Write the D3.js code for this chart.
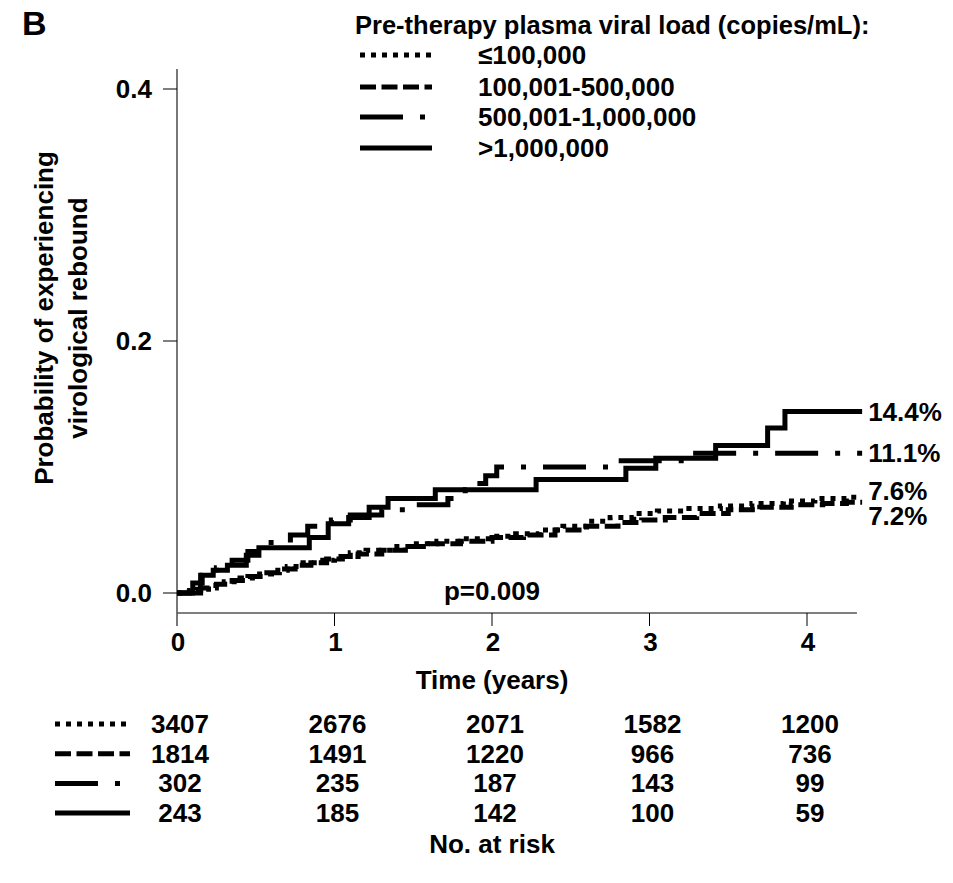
<!DOCTYPE html>
<html>
<head>
<meta charset="utf-8">
<script src="https://cdnjs.cloudflare.com/ajax/libs/d3/7.8.5/d3.min.js"></script>
<style>
  body { margin: 0; background: #fff; }
  text { font-family: "Liberation Sans", Arial, sans-serif; font-weight: bold; fill: #000; }
</style>
</head>
<body>
<div id="chart"></div>
<script>
// groups, in legend order
var groups = ["\u2264100,000", "100,001-500,000", "500,001-1,000,000", ">1,000,000"];

// cumulative probability of rebound, [years, probability] step points
var curveLow = [[0,0],[0.05,0.001],[0.12,0.003],[0.2,0.006],[0.3,0.009],[0.4,0.012],[0.5,0.015],[0.6,0.018],
  [0.7,0.021],[0.8,0.024],[0.9,0.026],[1.0,0.029],[1.1,0.032],[1.2,0.034],[1.35,0.037],[1.5,0.039],[1.65,0.041],
  [1.8,0.043],[2.0,0.045],[2.15,0.047],[2.3,0.050],[2.45,0.053],[2.6,0.057],[2.75,0.060],[2.9,0.063],[3.05,0.065],
  [3.25,0.067],[3.45,0.069],[3.65,0.071],[3.85,0.073],[4.05,0.075],[4.25,0.076],[4.35,0.076]];
var curveMid = [[0,0],[0.08,0.002],[0.15,0.004],[0.25,0.007],[0.35,0.010],[0.45,0.013],[0.55,0.016],[0.65,0.019],
  [0.75,0.022],[0.85,0.024],[0.95,0.027],[1.05,0.029],[1.15,0.031],[1.3,0.034],[1.45,0.037],[1.6,0.039],[1.8,0.041],
  [2.0,0.044],[2.2,0.046],[2.4,0.050],[2.6,0.053],[2.8,0.056],[2.95,0.058],[3.1,0.060],[3.3,0.063],[3.5,0.066],
  [3.7,0.068],[3.9,0.070],[4.1,0.071],[4.25,0.072],[4.35,0.072]];
var curveHigh = [[0,0],[0.1,0.008],[0.16,0.014],[0.25,0.02],[0.35,0.026],[0.45,0.033],[0.55,0.040],[0.72,0.046],
  [0.83,0.053],[0.98,0.058],[1.1,0.062],[1.3,0.066],[1.5,0.070],[1.72,0.075],[1.83,0.082],[1.9,0.087],[1.96,0.093],
  [2.03,0.1],[2.78,0.105],[3.26,0.111],[4.35,0.111]];
var curveTop = [[0,0],[0.15,0.014],[0.23,0.018],[0.32,0.022],[0.44,0.030],[0.52,0.036],[0.84,0.044],[0.96,0.055],
  [1.09,0.060],[1.22,0.068],[1.34,0.075],[1.64,0.082],[2.28,0.090],[2.85,0.099],[3.04,0.107],[3.42,0.117],
  [3.75,0.131],[3.86,0.144],[4.35,0.144]];
var curves = [curveLow, curveMid, curveHigh, curveTop];
var endLabels = ["7.6%", "7.2%", "11.1%", "14.4%"];

var yTicks = [0.0, 0.2, 0.4];
var xTicks = [0, 1, 2, 3, 4];
var riskLow = [3407, 2676, 2071, 1582, 1200];
var riskMid = [1814, 1491, 1220, 966, 736];
var riskHigh = [302, 235, 187, 143, 99];
var riskTop = [243, 185, 142, 100, 59];
var risk = [riskLow, riskMid, riskHigh, riskTop];

// line styles per group
var dashes = ["5,6", "16,5.5", "43,17,5,17", null];
var labelShift = [-6, 14, 0, 0];

var svg = d3.select("#chart").append("svg")
  .attr("width", 953).attr("height", 883);

var x = d3.scaleLinear().domain([0, 4]).range([177, 807]);
var y = d3.scaleLinear().domain([0, 0.4]).range([593, 89]);
var fs = "26px";

// axes (offset style, drawn by hand from the scales)
svg.append("line").attr("x1", 177).attr("x2", 177).attr("y1", 69).attr("y2", 626)
  .attr("stroke", "#555").attr("stroke-width", 1.6);
svg.append("line").attr("x1", 177).attr("x2", x(4.317)).attr("y1", 613).attr("y2", 613)
  .attr("stroke", "#555").attr("stroke-width", 1.6);

svg.selectAll(".ytick").data(yTicks).enter().append("line")
  .attr("x1", 163).attr("x2", 177)
  .attr("y1", function (d) { return y(d); }).attr("y2", function (d) { return y(d); })
  .attr("stroke", "#000").attr("stroke-width", 1);
svg.selectAll(".ylab").data(yTicks).enter().append("text")
  .attr("x", 152).attr("y", function (d) { return y(d) + 9; })
  .attr("text-anchor", "end").style("font-size", fs)
  .text(function (d) { return d.toFixed(1); });

svg.selectAll(".xtick").data(xTicks.slice(1)).enter().append("line")
  .attr("x1", function (d) { return x(d); }).attr("x2", function (d) { return x(d); })
  .attr("y1", 613).attr("y2", 626)
  .attr("stroke", "#000").attr("stroke-width", 1);
svg.selectAll(".xlab").data(xTicks).enter().append("text")
  .attr("x", function (d) { return x(d) + 1; }).attr("y", 651)
  .attr("text-anchor", "middle").style("font-size", fs)
  .text(function (d) { return d; });

svg.append("text").attr("x", x(2)).attr("y", 689).attr("text-anchor", "middle")
  .style("font-size", fs).text("Time (years)");

svg.append("text").attr("transform", "translate(53,318) rotate(-90)")
  .attr("text-anchor", "middle").style("font-size", fs).text("Probability of experiencing");
svg.append("text").attr("transform", "translate(87,318) rotate(-90)")
  .attr("text-anchor", "middle").style("font-size", fs).text("virological rebound");

// curves
var line = d3.line()
  .x(function (d) { return x(d[0]); })
  .y(function (d) { return y(d[1]); })
  .curve(d3.curveStepAfter);

curves.forEach(function (c, i) {
  svg.append("path").datum(c)
    .attr("d", line)
    .attr("fill", "none").attr("stroke", "#000").attr("stroke-width", 5)
    .attr("stroke-dasharray", dashes[i]);
  var last = c[c.length - 1];
  svg.append("text").attr("x", x(last[0]) + 6).attr("y", y(last[1]) + 9 + labelShift[i])
    .style("font-size", fs).text(endLabels[i]);
});

svg.append("text").attr("x", x(2)).attr("y", 600).attr("text-anchor", "middle")
  .style("font-size", fs).text("p=0.009");

// panel letter
svg.append("text").attr("x", 22).attr("y", 35).style("font-size", "34px").text("B");

// legend
svg.append("text").attr("x", 355).attr("y", 34).style("font-size", "25.5px")
  .text("Pre-therapy plasma viral load (copies/mL):");
var legendY = [55, 87, 117, 148];
groups.forEach(function (g, i) {
  svg.append("line").attr("x1", 360).attr("x2", 432).attr("y1", legendY[i]).attr("y2", legendY[i])
    .attr("stroke", "#000").attr("stroke-width", 5).attr("stroke-dasharray", dashes[i]);
  svg.append("text").attr("x", 478).attr("y", legendY[i] + 9).style("font-size", fs).text(g);
});

// number at risk table
risk.forEach(function (row, i) {
  var ry = 724 + i * 29.7;
  svg.append("line").attr("x1", 55).attr("x2", 130).attr("y1", ry).attr("y2", ry)
    .attr("stroke", "#000").attr("stroke-width", 5).attr("stroke-dasharray", dashes[i]);
  svg.selectAll(null).data(row).enter().append("text")
    .attr("x", function (d, j) { return x(xTicks[j]) + 3; })
    .attr("y", ry + 9)
    .attr("text-anchor", "middle").style("font-size", fs)
    .text(function (d) { return d; });
});
svg.append("text").attr("x", x(2)).attr("y", 853).attr("text-anchor", "middle")
  .style("font-size", fs).text("No. at risk");
</script>
</body>
</html>
